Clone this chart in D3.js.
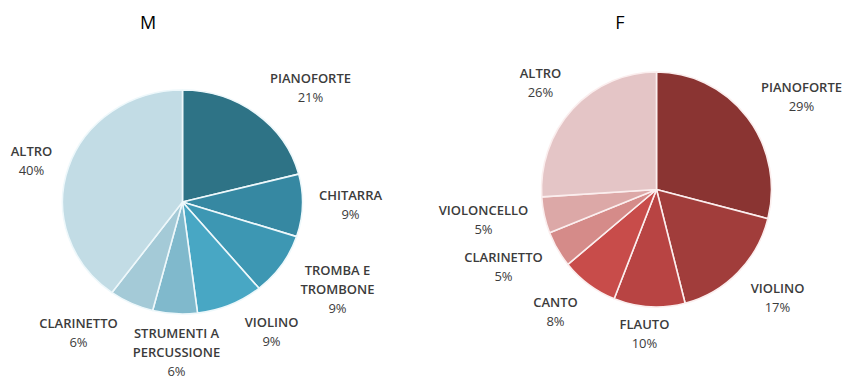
<!DOCTYPE html>
<html>
<head>
<meta charset="utf-8">
<script src="https://cdn.jsdelivr.net/npm/d3@7"></script>
<style>
  html, body { margin: 0; padding: 0; background: #ffffff; }
  svg { display: block; }
  .title { font-family: "Open Sans", "Noto Sans", sans-serif; font-size: 18px; fill: #000; }
  .lbl { font-family: "Open Sans", "Noto Sans", sans-serif; font-size: 13px; fill: #3c3c3c; }
</style>
</head>
<body>
<svg id="chart" width="847" height="380"></svg>
<script>
// Male students: instrument shares (%)
const maleCategories = ["PIANOFORTE", "CHITARRA", "TROMBA E TROMBONE", "VIOLINO", "STRUMENTI A PERCUSSIONE", "CLARINETTO", "ALTRO"];
const maleValues = [21, 9, 9, 9, 6, 6, 40];
const maleColors = ["#2e7386", "#3688a2", "#3d97b3", "#48a7c4", "#80b9cc", "#a4cad7", "#c2dce5"];

// Female students: instrument shares (%)
const femaleCategories = ["PIANOFORTE", "VIOLINO", "FLAUTO", "CANTO", "CLARINETTO", "VIOLONCELLO", "ALTRO"];
const femaleValues = [29, 17, 10, 8, 5, 5, 26];
const femaleColors = ["#8a3432", "#a13d3b", "#b84443", "#c84c4a", "#d58b89", "#dca8a7", "#e4c5c6"];

// Label text lines per slice (the category name is wrapped as in the chart)
const maleLabelLines = [["PIANOFORTE"], ["CHITARRA"], ["TROMBA E", "TROMBONE"], ["VIOLINO"], ["STRUMENTI A", "PERCUSSIONE"], ["CLARINETTO"], ["ALTRO"]];
const femaleLabelLines = [["PIANOFORTE"], ["VIOLINO"], ["FLAUTO"], ["CANTO"], ["CLARINETTO"], ["VIOLONCELLO"], ["ALTRO"]];

// Layout: label anchors relative to each pie centre (first-line baseline)
const maleLabelPos = [[128, -119], [168, -2], [155, 73], [89, 125], [-6, 136], [-104, 126], [-151, -46]];
const femaleLabelPos = [[145, -98], [121, 103], [-12, 139], [-101, 117], [-153, 72], [-173, 25], [-116, -112]];

const svg = d3.select("#chart");

function drawPie(cfg) {
  const data = cfg.categories.map((c, i) => ({ name: c, value: cfg.values[i], lines: cfg.lines[i], color: cfg.colors[i], pos: cfg.labelPos[i] }));
  const pie = d3.pie().value(d => d.value).sort(null);
  const arc = d3.arc().innerRadius(0).outerRadius(cfg.ry);

  const g = svg.append("g").attr("transform", `translate(${cfg.cx},${cfg.cy})`);
  const slices = g.append("g").attr("transform", `scale(${cfg.rx / cfg.ry},1)`);

  slices.selectAll("path")
    .data(pie(data))
    .join("path")
    .attr("d", arc)
    .attr("fill", d => d.data.color)
    .attr("stroke", cfg.sep)
    .attr("stroke-width", 1.6)
    .attr("stroke-linejoin", "round")
    .attr("vector-effect", "non-scaling-stroke");

  const total = d3.sum(cfg.values);
  const fmt = v => Math.round(v / total * 100) + "%";

  const labels = g.selectAll("text.lbl")
    .data(data)
    .join("text")
    .attr("class", "lbl")
    .attr("text-anchor", "middle")
    .attr("x", d => d.pos[0])
    .attr("y", d => d.pos[1]);

  labels.each(function (d) {
    const t = d3.select(this);
    const lines = d.lines.concat([fmt(d.value)]);
    lines.forEach((s, i) => {
      t.append("tspan")
        .attr("x", d.pos[0])
        .attr("dy", i === 0 ? 0 : 19.2)
        .style("font-weight", i === lines.length - 1 ? 500 : 600)
        .text(s);
    });
  });

  svg.append("text")
    .attr("class", "title")
    .attr("text-anchor", "middle")
    .attr("x", cfg.titleX)
    .attr("y", 29)
    .text(cfg.title);
}

drawPie({
  title: "M", titleX: 148,
  categories: maleCategories, values: maleValues, colors: maleColors,
  lines: maleLabelLines, labelPos: maleLabelPos,
  cx: 182.5, cy: 202, rx: 120, ry: 112, sep: "#eef8fb"
});

drawPie({
  title: "F", titleX: 620,
  categories: femaleCategories, values: femaleValues, colors: femaleColors,
  lines: femaleLabelLines, labelPos: femaleLabelPos,
  cx: 656.5, cy: 189.5, rx: 115, ry: 117.5, sep: "#fbeeee"
});
</script>
</body>
</html>
